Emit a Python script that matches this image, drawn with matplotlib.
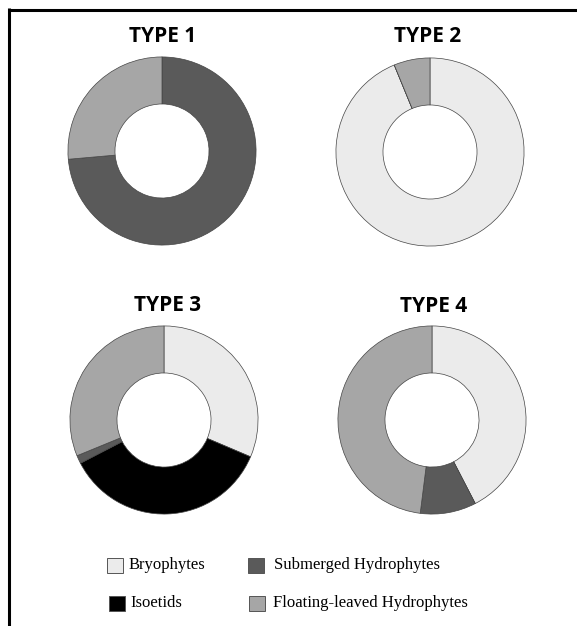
import matplotlib
matplotlib.use("Agg")
import matplotlib.pyplot as plt
from matplotlib.patches import Rectangle
from matplotlib.lines import Line2D

# pie order (clockwise from 12 o'clock)
categories = ["Bryophytes", "Isoetids", "Submerged Hydrophytes", "Floating-leaved Hydrophytes"]
colors = ["#ebebeb", "#000000", "#5a5a5a", "#a6a6a6"]
titles = ["TYPE 1", "TYPE 2", "TYPE 3", "TYPE 4"]
type1 = [0.0, 0.0, 73.6, 26.4]
type2 = [93.8, 0.0, 0.0, 6.2]
type3 = [31.4, 36.0, 1.4, 31.2]
type4 = [42.4, 0.0, 9.6, 48.0]
series = [type1, type2, type3, type4]

W, H = 577, 626
fig = plt.figure(figsize=(W / 100, H / 100), dpi=100)
fig.patch.set_facecolor("white")

centers = [(162, 151), (430, 152), (164, 420), (432, 420)]
title_pos = [(163, 36), (428, 36), (168, 305), (434, 306)]
R = 95

def fx(x):
    return x / W

def fy(y):
    return 1 - y / H

for vals, (cx, cy), title, (tx, ty) in zip(series, centers, titles, title_pos):
    ax = fig.add_axes([fx(cx - R), fy(cy + R), 2 * R / W, 2 * R / H])
    ax.pie(vals, colors=colors, startangle=90, counterclock=False, radius=1,
           wedgeprops=dict(width=0.5, edgecolor="#444444", linewidth=0.5))
    ax.set_xlim(-1.01, 1.01)
    ax.set_ylim(-1.01, 1.01)
    ax.set_aspect("equal")
    ax.axis("off")
    fig.text(fx(tx), fy(ty), title, ha="center", va="center",
             fontsize=15, fontweight="bold", family="Open Sans")

# frame lines (top and left)
fig.add_artist(Line2D([fx(7.5), 1.0], [fy(9.5), fy(9.5)], color="black", lw=2.2,
                      solid_capstyle="butt"))
fig.add_artist(Line2D([fx(8.8), fx(8.8)], [fy(8.0), 0.0], color="black", lw=2.2,
                      solid_capstyle="butt"))

# legend (positions by category name)
legend_items = [
    ("Bryophytes", 107, 558, 129, 565),
    ("Submerged Hydrophytes", 248, 558, 274, 565),
    ("Isoetids", 109, 596, 130, 603),
    ("Floating-leaved Hydrophytes", 249, 596, 273, 603),
]
for name, sx, sy, tx, ty in legend_items:
    idx = categories.index(name)
    fig.add_artist(Rectangle((fx(sx), fy(sy + 15)), 16 / W, 15 / H,
                             facecolor=colors[idx], edgecolor="#555555", lw=0.7,
                             transform=fig.transFigure))
    fig.text(fx(tx), fy(ty), categories[idx], ha="left", va="center",
             fontsize=12, family="Liberation Serif")

fig.savefig("out.png", dpi=100, facecolor="white")
